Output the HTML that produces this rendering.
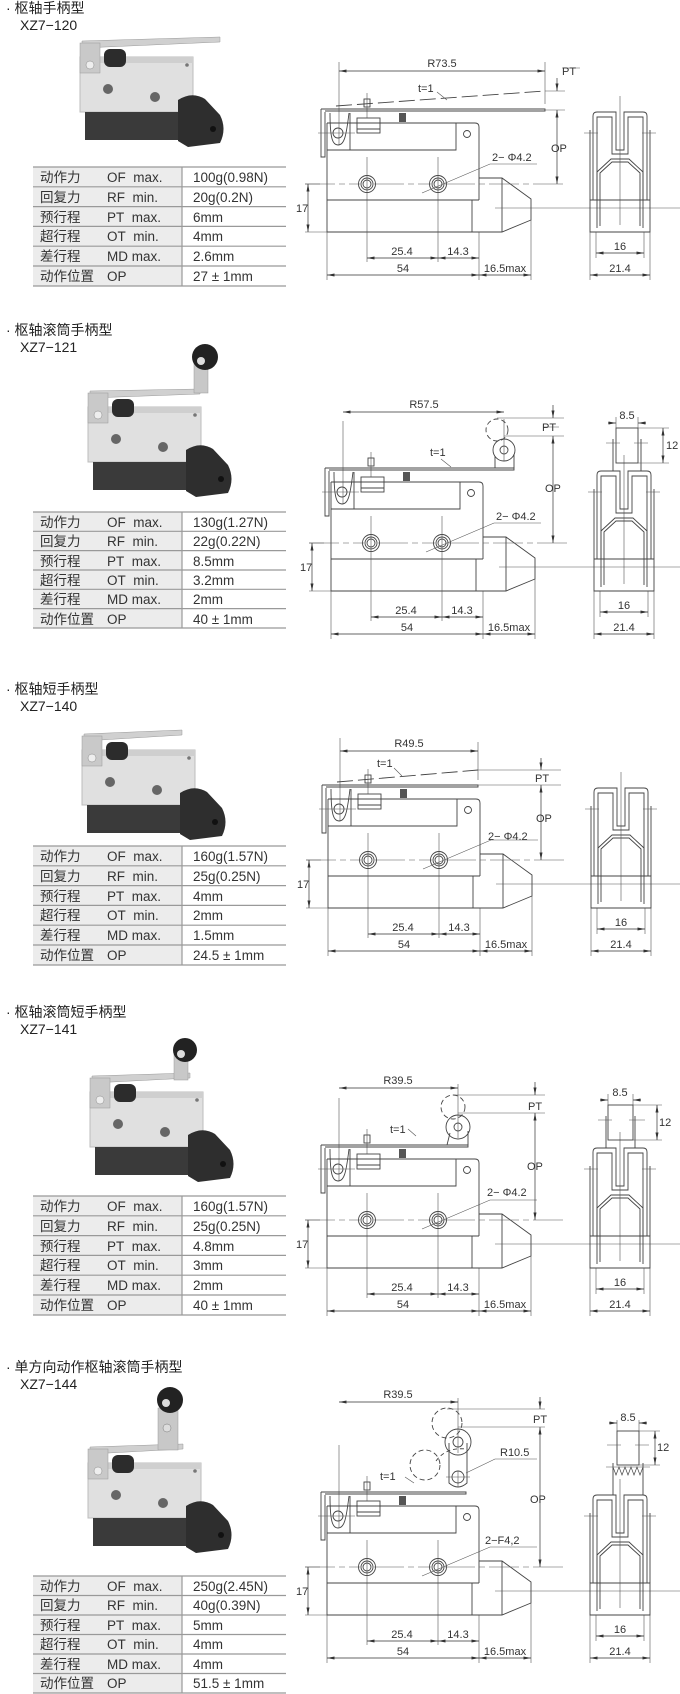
<!DOCTYPE html>
<html><head><meta charset="utf-8"><style>
html,body{margin:0;padding:0;background:#fff;}
svg{display:block;font-family:"Liberation Sans","Noto Sans CJK SC",sans-serif;}
.t{font-size:13.5px;fill:#333}
.d{font-size:11px;fill:#333}
.ttl{font-size:14px;fill:#222}
</style></head><body>
<svg width="680" height="1694" viewBox="0 0 680 1694" xmlns="http://www.w3.org/2000/svg">
<defs>
<marker id="a" viewBox="0 0 10 4" refX="10" refY="2" markerWidth="8" markerHeight="3" orient="auto-start-reverse" markerUnits="userSpaceOnUse"><path d="M0,0 L10,2 L0,4z" fill="#333"/></marker>
<g id="base">
 <g fill="none" stroke="#444" stroke-width="0.9">
  <path d="M327,123 H475 Q479,123 479,127 V200 M327,123 V232 H472"/>
  <path d="M327,150 H456 V123"/>
  <circle cx="467" cy="134" r="3.5"/>
  <path d="M327,200 H479"/>
  <path d="M479,178 H502 L531,199 V220 L502,232 H472 V200 M502,178 V232"/>
  <path d="M321,109 V157 H325 V112"/>
  <path d="M330,113 C330,140 333,145 338,145 C344,145 346,138 349,113 M350,113 V150"/>
  <circle cx="338" cy="133" r="5"/>
  <rect x="357" y="118" width="23" height="15"/>
  <path d="M357,129 H380"/>
  <rect x="364" y="99" width="6" height="8"/>
  <circle cx="367" cy="184" r="8.5"/><circle cx="367" cy="184" r="6"/><circle cx="367" cy="184" r="4"/>
  <circle cx="438" cy="184" r="8.5"/><circle cx="438" cy="184" r="6"/><circle cx="438" cy="184" r="4"/>
 </g>
 <rect x="399" y="113" width="7" height="9" fill="#555"/>
 <g fill="none" stroke="#555" stroke-width="0.6">
  <path d="M305,184 H360 M374,184 H431 M445,184 H565" stroke-dasharray="30 4 6 4"/>
  <path d="M367,157 V262 M438,157 V262 M479,232 V280 M327,232 V280 M531,220 V280"/>
  <path d="M367,93 V118 M318,133 H355 M339,62 V145"/>
  <path d="M305,232 H327 M305,184 H320"/>
  <path d="M495,208 H680"/>
  <path d="M422,193 L490,164 H537"/>
 </g>
 <g stroke="#333" stroke-width="0.7" fill="none">
  <path d="M308,184 V232" marker-start="url(#a)" marker-end="url(#a)"/>
  <path d="M367,258 H438" marker-start="url(#a)" marker-end="url(#a)"/>
  <path d="M438,258 H479" marker-start="url(#a)" marker-end="url(#a)"/>
  <path d="M327,275 H479" marker-start="url(#a)" marker-end="url(#a)"/>
  <path d="M479,275 H531" marker-start="url(#a)" marker-end="url(#a)"/>
 </g>
 <!-- side view -->
 <g fill="none" stroke="#444" stroke-width="0.9">
  <path d="M593,200 V116 Q593,112 597,112 H616 V150 H624 V112 H643 Q647,112 647,116 V200"/>
  <path d="M597,200 V117 H612 V154 H628 V117 H643 V200"/>
  <path d="M590,200 H650 V232 H590 Z"/>
  <path d="M597,228 V172 L611,159 H629 L643,172 V228 M600,226 V173 L612,162 H628 L640,173 V226"/>
  <path d="M590,200 V130 M650,200 V130"/>
 </g>
 <g fill="none" stroke="#555" stroke-width="0.6">
  <path d="M620,96 V225 M584,133 H598 M642,133 H656"/>
  <path d="M596,232 V258 M644,232 V258 M590,232 V280 M650,232 V280"/>
 </g>
 <g stroke="#333" stroke-width="0.7" fill="none">
  <path d="M596,253 H644" marker-start="url(#a)" marker-end="url(#a)"/>
  <path d="M590,275 H650" marker-start="url(#a)" marker-end="url(#a)"/>
 </g>
 <g class="d" font-size="11" fill="#333" font-family="Liberation Sans, sans-serif">
 </g>
</g>
<g id="photo">
 <rect x="0" y="20" width="113" height="55" fill="#e0e0e0" stroke="#bdbdbd"/>
 <rect x="3" y="20" width="110" height="6" fill="#cfcfcf"/>
 <rect x="5" y="75" width="100" height="28" fill="#3a3a3a"/>
 <path d="M98,63 Q112,54 125,62 L140,78 Q147,92 140,106 L108,110 L98,104 Z" fill="#2e2e2e"/>
 <circle cx="133" cy="92" r="3" fill="#111"/>
 <rect x="0" y="6" width="20" height="30" fill="#c9c9c9" stroke="#999" stroke-width="0.5"/>
 <circle cx="10" cy="28" r="4" fill="#eee" stroke="#888" stroke-width="0.5"/>
 <rect x="24" y="12" width="22" height="18" rx="6" fill="#2c2c2c"/>
 <circle cx="28" cy="52" r="5" fill="#666"/><circle cx="75" cy="60" r="5" fill="#666"/>
 <circle cx="107" cy="28" r="1.8" fill="#777"/>
</g>
</defs>

<!-- ================= Section 1 ================= -->
<text x="6" y="13" class="ttl">· 枢轴手柄型</text>
<text x="20" y="30" class="ttl">XZ7−120</text>
<g transform="translate(80,37)">
 <polygon points="2,4 140,0 140,5 2,11" fill="#d0d0d0" stroke="#999" stroke-width="0.5"/>
 <use href="#photo"/>
</g>
<g>
 <rect x="33" y="167" width="149" height="119" fill="#ececec"/>
 <g stroke="#999" stroke-width="1.2"><path d="M33,167 H286 M33,186.8 H286 M33,206.6 H286 M33,226.4 H286 M33,246.2 H286 M33,266 H286 M33,286 H286 M182,167 V286"/></g>
 <g class="t">
  <text x="40" y="182">动作力</text><text x="107" y="182">OF&#160; max.</text><text x="193" y="182">100g(0.98N)</text>
  <text x="40" y="202">回复力</text><text x="107" y="202">RF&#160; min.</text><text x="193" y="202">20g(0.2N)</text>
  <text x="40" y="222">预行程</text><text x="107" y="222">PT&#160; max.</text><text x="193" y="222">6mm</text>
  <text x="40" y="241">超行程</text><text x="107" y="241">OT&#160; min.</text><text x="193" y="241">4mm</text>
  <text x="40" y="261">差行程</text><text x="107" y="261">MD max.</text><text x="193" y="261">2.6mm</text>
  <text x="40" y="281">动作位置</text><text x="107" y="281">OP</text><text x="193" y="281">27 ± 1mm</text>
 </g>
</g>
<g transform="translate(0,0)">
 <use href="#base"/>
 <g fill="none" stroke="#444" stroke-width="0.9">
  <path d="M321,109 H545 V111 H325"/>
  <path d="M336,106 L545,91" stroke-dasharray="16 5"/>
 </g>
 <g fill="none" stroke="#555" stroke-width="0.6">
  <path d="M545,62 V104 M545,91 H565 M545,110 H565 M437,92 L447,100 M562,68 H580"/>
 </g>
 <g stroke="#333" stroke-width="0.7" fill="none">
  <path d="M339,71 H545" marker-start="url(#a)" marker-end="url(#a)"/>
  <path d="M557,78 V91" marker-end="url(#a)"/>
  <path d="M557,110 V184" marker-start="url(#a)" marker-end="url(#a)"/>
 </g>
 <g class="d">
  <text x="442" y="67" text-anchor="middle">R73.5</text>
  <text x="418" y="92">t=1</text>
  <text x="562" y="75">PT</text>
  <text x="551" y="152">OP</text>
  <text x="492" y="161">2− Φ4.2</text>
  <text x="296" y="212">17</text>
  <text x="402" y="255" text-anchor="middle">25.4</text>
  <text x="458" y="255" text-anchor="middle">14.3</text>
  <text x="403" y="272" text-anchor="middle">54</text>
  <text x="505" y="272" text-anchor="middle">16.5max</text>
  <text x="620" y="250" text-anchor="middle">16</text>
  <text x="620" y="272" text-anchor="middle">21.4</text>
 </g>
</g>

<!-- ================= Section 2 ================= -->
<text x="6" y="335" class="ttl">· 枢轴滚筒手柄型</text>
<text x="20" y="352" class="ttl">XZ7−121</text>
<g transform="translate(88,387)">
 <polygon points="2,4 112,2 112,7 2,11" fill="#d0d0d0" stroke="#999" stroke-width="0.5"/>
 <rect x="106" y="-32" width="14" height="38" fill="#c8c8c8" stroke="#999" stroke-width="0.5"/>
 <circle cx="117" cy="-30" r="13" fill="#222"/><circle cx="113" cy="-26" r="4" fill="#ddd"/>
 <use href="#photo"/>
</g>
<g>
 <rect x="33" y="512" width="149" height="116" fill="#ececec"/>
 <g stroke="#999" stroke-width="1.2"><path d="M33,512 H286 M33,531.3 H286 M33,550.6 H286 M33,570 H286 M33,589.3 H286 M33,608.6 H286 M33,628 H286 M182,512 V628"/></g>
 <g class="t">
  <text x="40" y="527">动作力</text><text x="107" y="527">OF&#160; max.</text><text x="193" y="527">130g(1.27N)</text>
  <text x="40" y="546">回复力</text><text x="107" y="546">RF&#160; min.</text><text x="193" y="546">22g(0.22N)</text>
  <text x="40" y="566">预行程</text><text x="107" y="566">PT&#160; max.</text><text x="193" y="566">8.5mm</text>
  <text x="40" y="585">超行程</text><text x="107" y="585">OT&#160; min.</text><text x="193" y="585">3.2mm</text>
  <text x="40" y="604">差行程</text><text x="107" y="604">MD max.</text><text x="193" y="604">2mm</text>
  <text x="40" y="624">动作位置</text><text x="107" y="624">OP</text><text x="193" y="624">40 ± 1mm</text>
 </g>
</g>
<g transform="translate(4,359)">
 <use href="#base"/>
 <g fill="none" stroke="#444" stroke-width="0.9">
  <path d="M321,109 H510 V111 H325"/>
  <path d="M491,109 V97 M510,109 V95"/>
  <circle cx="500" cy="91" r="11"/><circle cx="500" cy="91" r="4"/>
  <circle cx="493" cy="71" r="11" stroke-dasharray="5 3"/>
  <rect x="612" y="69" width="22" height="35"/>
  <path d="M609,80 V112 M637,80 V112"/>
 </g>
 <g fill="none" stroke="#555" stroke-width="0.6">
  <path d="M500,60 V102 M493,59 H560 M500,77 H560 M437,100 L447,108 M540,68 H555"/>
  <path d="M612,58 V69 M634,58 V69 M634,69 H665 M634,104 H665 M602,84 H616 M630,84 H644"/>
 </g>
 <g stroke="#333" stroke-width="0.7" fill="none">
  <path d="M339,53 H500" marker-start="url(#a)" marker-end="url(#a)"/>
  <path d="M549,46 V59" marker-end="url(#a)"/>
  <path d="M549,77 V184" marker-start="url(#a)" marker-end="url(#a)"/>
  <path d="M604,64 H612" marker-end="url(#a)"/><path d="M642,64 H634" marker-end="url(#a)"/>
  <path d="M659,69 V104" marker-start="url(#a)" marker-end="url(#a)"/>
 </g>
 <g class="d">
  <text x="420" y="49" text-anchor="middle">R57.5</text>
  <text x="426" y="97">t=1</text>
  <text x="538" y="72">PT</text>
  <text x="541" y="133">OP</text>
  <text x="492" y="161">2− Φ4.2</text>
  <text x="623" y="60" text-anchor="middle">8.5</text>
  <text x="662" y="90">12</text>
  <text x="296" y="212">17</text>
  <text x="402" y="255" text-anchor="middle">25.4</text>
  <text x="458" y="255" text-anchor="middle">14.3</text>
  <text x="403" y="272" text-anchor="middle">54</text>
  <text x="505" y="272" text-anchor="middle">16.5max</text>
  <text x="620" y="250" text-anchor="middle">16</text>
  <text x="620" y="272" text-anchor="middle">21.4</text>
 </g>
</g>

<!-- ================= Section 3 ================= -->
<text x="6" y="694" class="ttl">· 枢轴短手柄型</text>
<text x="20" y="711" class="ttl">XZ7−140</text>
<g transform="translate(82,730)">
 <polygon points="2,4 100,0 100,5 2,11" fill="#d0d0d0" stroke="#999" stroke-width="0.5"/>
 <use href="#photo"/>
</g>
<g>
 <rect x="33" y="846" width="149" height="119" fill="#ececec"/>
 <g stroke="#999" stroke-width="1.2"><path d="M33,846 H286 M33,865.8 H286 M33,885.6 H286 M33,905.4 H286 M33,925.2 H286 M33,945 H286 M33,965 H286 M182,846 V965"/></g>
 <g class="t">
  <text x="40" y="861">动作力</text><text x="107" y="861">OF&#160; max.</text><text x="193" y="861">160g(1.57N)</text>
  <text x="40" y="881">回复力</text><text x="107" y="881">RF&#160; min.</text><text x="193" y="881">25g(0.25N)</text>
  <text x="40" y="901">预行程</text><text x="107" y="901">PT&#160; max.</text><text x="193" y="901">4mm</text>
  <text x="40" y="920">超行程</text><text x="107" y="920">OT&#160; min.</text><text x="193" y="920">2mm</text>
  <text x="40" y="940">差行程</text><text x="107" y="940">MD max.</text><text x="193" y="940">1.5mm</text>
  <text x="40" y="960">动作位置</text><text x="107" y="960">OP</text><text x="193" y="960">24.5 ± 1mm</text>
 </g>
</g>
<g transform="translate(1,676)">
 <use href="#base"/>
 <g fill="none" stroke="#444" stroke-width="0.9">
  <path d="M321,109 H477 V111 H325"/>
  <path d="M336,106 L477,94" stroke-dasharray="16 5"/>
 </g>
 <g fill="none" stroke="#555" stroke-width="0.6">
  <path d="M477,66 V104 M477,94 H560 M477,109 H560 M393,92 L401,100"/>
 </g>
 <g stroke="#333" stroke-width="0.7" fill="none">
  <path d="M339,75 H477" marker-start="url(#a)" marker-end="url(#a)"/>
  <path d="M540,82 V94" marker-end="url(#a)"/>
  <path d="M540,109 V184" marker-start="url(#a)" marker-end="url(#a)"/>
 </g>
 <g class="d">
  <text x="408" y="71" text-anchor="middle">R49.5</text>
  <text x="376" y="91">t=1</text>
  <text x="534" y="106">PT</text>
  <text x="535" y="146">OP</text>
  <text x="487" y="164">2− Φ4.2</text>
  <text x="296" y="212">17</text>
  <text x="402" y="255" text-anchor="middle">25.4</text>
  <text x="458" y="255" text-anchor="middle">14.3</text>
  <text x="403" y="272" text-anchor="middle">54</text>
  <text x="505" y="272" text-anchor="middle">16.5max</text>
  <text x="620" y="250" text-anchor="middle">16</text>
  <text x="620" y="272" text-anchor="middle">21.4</text>
 </g>
</g>

<!-- ================= Section 4 ================= -->
<text x="6" y="1017" class="ttl">· 枢轴滚筒短手柄型</text>
<text x="20" y="1034" class="ttl">XZ7−141</text>
<g transform="translate(90,1072)">
 <polygon points="2,4 100,1 100,6 2,11" fill="#d0d0d0" stroke="#999" stroke-width="0.5"/>
 <rect x="84" y="-22" width="14" height="30" fill="#c8c8c8" stroke="#999" stroke-width="0.5"/>
 <circle cx="95" cy="-22" r="12" fill="#222"/><circle cx="91" cy="-18" r="4" fill="#ddd"/>
 <use href="#photo"/>
</g>
<g>
 <rect x="33" y="1196" width="149" height="119" fill="#ececec"/>
 <g stroke="#999" stroke-width="1.2"><path d="M33,1196 H286 M33,1215.8 H286 M33,1235.6 H286 M33,1255.4 H286 M33,1275.2 H286 M33,1295 H286 M33,1315 H286 M182,1196 V1315"/></g>
 <g class="t">
  <text x="40" y="1211">动作力</text><text x="107" y="1211">OF&#160; max.</text><text x="193" y="1211">160g(1.57N)</text>
  <text x="40" y="1231">回复力</text><text x="107" y="1231">RF&#160; min.</text><text x="193" y="1231">25g(0.25N)</text>
  <text x="40" y="1251">预行程</text><text x="107" y="1251">PT&#160; max.</text><text x="193" y="1251">4.8mm</text>
  <text x="40" y="1270">超行程</text><text x="107" y="1270">OT&#160; min.</text><text x="193" y="1270">3mm</text>
  <text x="40" y="1290">差行程</text><text x="107" y="1290">MD max.</text><text x="193" y="1290">2mm</text>
  <text x="40" y="1310">动作位置</text><text x="107" y="1310">OP</text><text x="193" y="1310">40 ± 1mm</text>
 </g>
</g>
<g transform="translate(0,1036)">
 <use href="#base"/>
 <g fill="none" stroke="#444" stroke-width="0.9">
  <path d="M321,109 H468 V111 H325"/>
  <path d="M447,109 L450,97 M468,109 V95"/>
  <circle cx="458" cy="91" r="12"/><circle cx="458" cy="91" r="4"/>
  <circle cx="453" cy="71" r="12" stroke-dasharray="5 3"/>
  <rect x="608" y="69" width="25" height="35"/>
  <path d="M606,80 V112 M635,80 V112"/>
 </g>
 <g fill="none" stroke="#555" stroke-width="0.6">
  <path d="M458,48 V102 M453,59 H545 M458,77 H545 M408,93 L416,100"/>
  <path d="M608,58 V69 M633,58 V69 M633,69 H662 M633,104 H662 M598,84 H612 M629,84 H645"/>
 </g>
 <g stroke="#333" stroke-width="0.7" fill="none">
  <path d="M339,52 H458" marker-start="url(#a)" marker-end="url(#a)"/>
  <path d="M535,46 V59" marker-end="url(#a)"/>
  <path d="M535,77 V184" marker-start="url(#a)" marker-end="url(#a)"/>
  <path d="M600,64 H608" marker-end="url(#a)"/><path d="M641,64 H633" marker-end="url(#a)"/>
  <path d="M657,69 V104" marker-start="url(#a)" marker-end="url(#a)"/>
 </g>
 <g class="d">
  <text x="398" y="48" text-anchor="middle">R39.5</text>
  <text x="390" y="97">t=1</text>
  <text x="528" y="74">PT</text>
  <text x="527" y="134">OP</text>
  <text x="487" y="160">2− Φ4.2</text>
  <text x="620" y="60" text-anchor="middle">8.5</text>
  <text x="659" y="90">12</text>
  <text x="296" y="212">17</text>
  <text x="402" y="255" text-anchor="middle">25.4</text>
  <text x="458" y="255" text-anchor="middle">14.3</text>
  <text x="403" y="272" text-anchor="middle">54</text>
  <text x="505" y="272" text-anchor="middle">16.5max</text>
  <text x="620" y="250" text-anchor="middle">16</text>
  <text x="620" y="272" text-anchor="middle">21.4</text>
 </g>
</g>

<!-- ================= Section 5 ================= -->
<text x="6" y="1372" class="ttl">· 单方向动作枢轴滚筒手柄型</text>
<text x="20" y="1389" class="ttl">XZ7−144</text>
<g transform="translate(88,1443)">
 <polygon points="2,4 95,1 95,6 2,11" fill="#d0d0d0" stroke="#999" stroke-width="0.5"/>
 <rect x="70" y="-35" width="20" height="42" fill="#c8c8c8" stroke="#999" stroke-width="0.5"/>
 <circle cx="79" cy="-15" r="4" fill="#ddd" stroke="#777" stroke-width="0.5"/>
 <circle cx="82" cy="-43" r="13" fill="#222"/><circle cx="78" cy="-40" r="4" fill="#ddd"/>
 <use href="#photo"/>
</g>
<g>
 <rect x="33" y="1576" width="149" height="117" fill="#ececec"/>
 <g stroke="#999" stroke-width="1.2"><path d="M33,1576 H286 M33,1595.5 H286 M33,1615 H286 M33,1634.5 H286 M33,1654 H286 M33,1673.5 H286 M33,1693 H286 M182,1576 V1693"/></g>
 <g class="t">
  <text x="40" y="1591">动作力</text><text x="107" y="1591">OF&#160; max.</text><text x="193" y="1591">250g(2.45N)</text>
  <text x="40" y="1610">回复力</text><text x="107" y="1610">RF&#160; min.</text><text x="193" y="1610">40g(0.39N)</text>
  <text x="40" y="1630">预行程</text><text x="107" y="1630">PT&#160; max.</text><text x="193" y="1630">5mm</text>
  <text x="40" y="1649">超行程</text><text x="107" y="1649">OT&#160; min.</text><text x="193" y="1649">4mm</text>
  <text x="40" y="1669">差行程</text><text x="107" y="1669">MD max.</text><text x="193" y="1669">4mm</text>
  <text x="40" y="1688">动作位置</text><text x="107" y="1688">OP</text><text x="193" y="1688">51.5 ± 1mm</text>
 </g>
</g>
<g transform="translate(0,1383)">
 <use href="#base"/>
 <g fill="none" stroke="#444" stroke-width="0.9">
  <path d="M321,109 H466 V111 H325"/>
  <path d="M449,60 V100 Q458,108 467,100 V60"/>
  <circle cx="458" cy="59" r="13"/><circle cx="458" cy="59" r="5"/>
  <circle cx="458" cy="94" r="6"/>
  <circle cx="447" cy="40" r="15" stroke-dasharray="5 3"/>
  <circle cx="425" cy="82" r="15" stroke-dasharray="5 3"/>
  <path d="M436,78 Q446,64 466,66" stroke-dasharray="4 3"/>
  <rect x="617" y="48" width="22" height="34"/>
  <path d="M613,80 V112 M643,80 V112"/>
  <path d="M613,84 L616,92 L619,84 L622,92 L625,84 L628,92 L631,84 L634,92 L637,84 L640,92 L643,84" stroke-width="0.7"/>
 </g>
 <g fill="none" stroke="#555" stroke-width="0.6">
  <path d="M458,15 V70 M447,26 H545 M458,44 H545 M446,94 H470 M458,88 V104 M405,94 L414,100"/>
  <path d="M617,37 V48 M639,37 V48 M639,48 H660 M639,82 H660 M607,62 H621 M635,62 H649 M606,84 H650"/>
  <path d="M466,90 L495,76 H537"/>
 </g>
 <g stroke="#333" stroke-width="0.7" fill="none">
  <path d="M339,19 H458" marker-start="url(#a)" marker-end="url(#a)"/>
  <path d="M540,14 V26" marker-end="url(#a)"/>
  <path d="M540,44 V184" marker-start="url(#a)" marker-end="url(#a)"/>
  <path d="M609,40 H617" marker-end="url(#a)"/><path d="M647,40 H639" marker-end="url(#a)"/>
  <path d="M655,48 V82" marker-start="url(#a)" marker-end="url(#a)"/>
 </g>
 <g class="d">
  <text x="398" y="15" text-anchor="middle">R39.5</text>
  <text x="380" y="97">t=1</text>
  <text x="533" y="40">PT</text>
  <text x="530" y="120">OP</text>
  <text x="500" y="73">R10.5</text>
  <text x="485" y="161">2−F4,2</text>
  <text x="628" y="38" text-anchor="middle">8.5</text>
  <text x="657" y="68">12</text>
  <text x="296" y="212">17</text>
  <text x="402" y="255" text-anchor="middle">25.4</text>
  <text x="458" y="255" text-anchor="middle">14.3</text>
  <text x="403" y="272" text-anchor="middle">54</text>
  <text x="505" y="272" text-anchor="middle">16.5max</text>
  <text x="620" y="250" text-anchor="middle">16</text>
  <text x="620" y="272" text-anchor="middle">21.4</text>
 </g>
</g>
</svg>
</body></html>
